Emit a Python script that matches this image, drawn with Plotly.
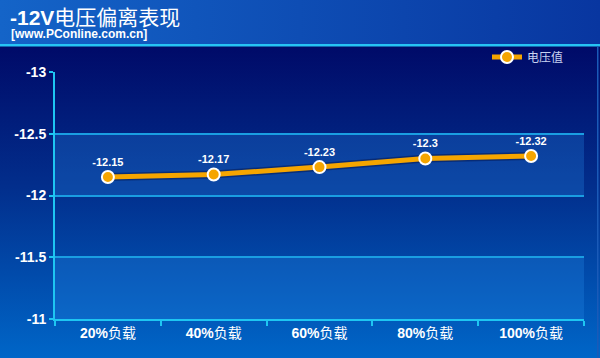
import base64
import plotly.graph_objects as go

categories = ["20%负载", "40%负载", "60%负载", "80%负载", "100%负载"]
values = [-12.15, -12.17, -12.23, -12.3, -12.32]
value_labels = ["-12.15", "-12.17", "-12.23", "-12.3", "-12.32"]
series_name = "电压值"
y_ticks = [-13, -12.5, -12, -11.5, -11]
y_tick_labels = ["-13", "-12.5", "-12", "-11.5", "-11"]
title_text = "<b>-12V</b>电压偏离表现"
subtitle_text = "<b>[www.PConline.com.cn]</b>"

W, H = 600, 358
ML, MR, MT, MB = 55, 16, 72, 39
PW, PH = W - ML - MR, H - MT - MB


def px(x):
    return (x - ML) / PW


def py(y):
    return (H - MB - y) / PH


svg = f"""<svg xmlns='http://www.w3.org/2000/svg' width='{W}' height='{H}' viewBox='0 0 {W} {H}'>
<defs>
<linearGradient id='bg' x1='0' y1='0' x2='0' y2='1'>
<stop offset='0' stop-color='#000a68'/>
<stop offset='0.45' stop-color='#022e8c'/>
<stop offset='1' stop-color='#0066c8'/>
</linearGradient>
<linearGradient id='tb' x1='0' y1='0' x2='1' y2='0'>
<stop offset='0' stop-color='#1464c8'/>
<stop offset='1' stop-color='#0836a0'/>
</linearGradient>
</defs>
<rect x='0' y='46' width='{W}' height='{H-46}' fill='url(#bg)'/>
<rect x='0' y='0' width='{W}' height='45' fill='url(#tb)'/>
<rect x='0' y='44' width='{W}' height='2.5' fill='#26c4f4'/>
<rect x='597' y='46' width='1.5' height='{H-46}' fill='#1a5ab8'/>
</svg>"""
bg_uri = "data:image/svg+xml;base64," + base64.b64encode(svg.encode()).decode()

font_fam = "Liberation Sans, Arial, Noto Sans CJK SC, sans-serif"

fig = go.Figure()
fig.add_trace(go.Scatter(
    x=categories, y=values, mode="lines", showlegend=False, hoverinfo="skip",
    line=dict(color="rgba(0,0,40,0.35)", width=8),
))
fig.add_trace(go.Scatter(
    x=categories, y=values, mode="lines+markers+text", name=series_name,
    text=value_labels, textposition="top center",
    textfont=dict(family=font_fam, size=11, color="white", weight="bold"),
    line=dict(color="#f5a500", width=5),
    marker=dict(size=12, color="#f5a500", line=dict(color="white", width=2)),
))

shapes = []
for lo, hi in [(-12.5, -12), (-11.5, -11)]:
    shapes.append(dict(type="rect", xref="paper", yref="y", x0=0, x1=1, y0=lo, y1=hi,
                       fillcolor="rgba(40,140,235,0.28)", line=dict(width=0), layer="below"))

fig.update_layout(
    width=W, height=H,
    margin=dict(l=ML, r=MR, t=MT, b=MB),
    paper_bgcolor="#022e8c", plot_bgcolor="rgba(0,0,0,0)",
    font=dict(family=font_fam, color="white"),
    images=[dict(source=bg_uri, xref="paper", yref="paper", x=px(0), y=py(0),
                 sizex=W / PW, sizey=H / PH, xanchor="left", yanchor="top",
                 sizing="stretch", layer="below")],
    shapes=shapes,
    xaxis=dict(
        type="category", range=[-0.5, 4.5], showgrid=False,
        showline=True, linecolor="#1ec6f2", linewidth=2,
        ticks="outside", ticklen=5, tickwidth=2, tickcolor="#1ec6f2",
        tickson="boundaries",
        tickvals=categories,
        ticktext=["<b>" + c[:-2] + "</b>" + c[-2:] for c in categories],
        tickfont=dict(size=14, color="white", family=font_fam),
        zeroline=False, fixedrange=True,
    ),
    yaxis=dict(
        range=[-11, -13], tickvals=y_ticks, ticktext=y_tick_labels,
        showgrid=True, gridcolor="#1a9ee2", gridwidth=1.5,
        showline=True, linecolor="#1ec6f2", linewidth=2,
        ticks="outside", ticklen=4, tickwidth=2, tickcolor="#1ec6f2",
        tickfont=dict(size=14, color="white", family=font_fam, weight="bold"),
        zeroline=False, fixedrange=True,
    ),
    legend=dict(x=px(487), y=py(57), xanchor="left", yanchor="middle",
                bgcolor="rgba(0,0,0,0)", font=dict(size=12, color="#c8d2f0",
                family="Noto Sans CJK SC, sans-serif")),
    annotations=[
        dict(text=title_text, xref="paper", yref="paper", x=px(8), y=py(17),
             xanchor="left", yanchor="middle", showarrow=False,
             font=dict(size=21, color="white", family=font_fam)),
        dict(text=subtitle_text, xref="paper", yref="paper", x=px(9), y=py(34),
             xanchor="left", yanchor="middle", showarrow=False,
             font=dict(size=12, color="white", family=font_fam)),
    ],
)

fig.write_html(
    "out.html",
    config={"displayModeBar": False},
    post_script="document.body.style.margin='0';document.body.style.overflow='hidden';",
)
